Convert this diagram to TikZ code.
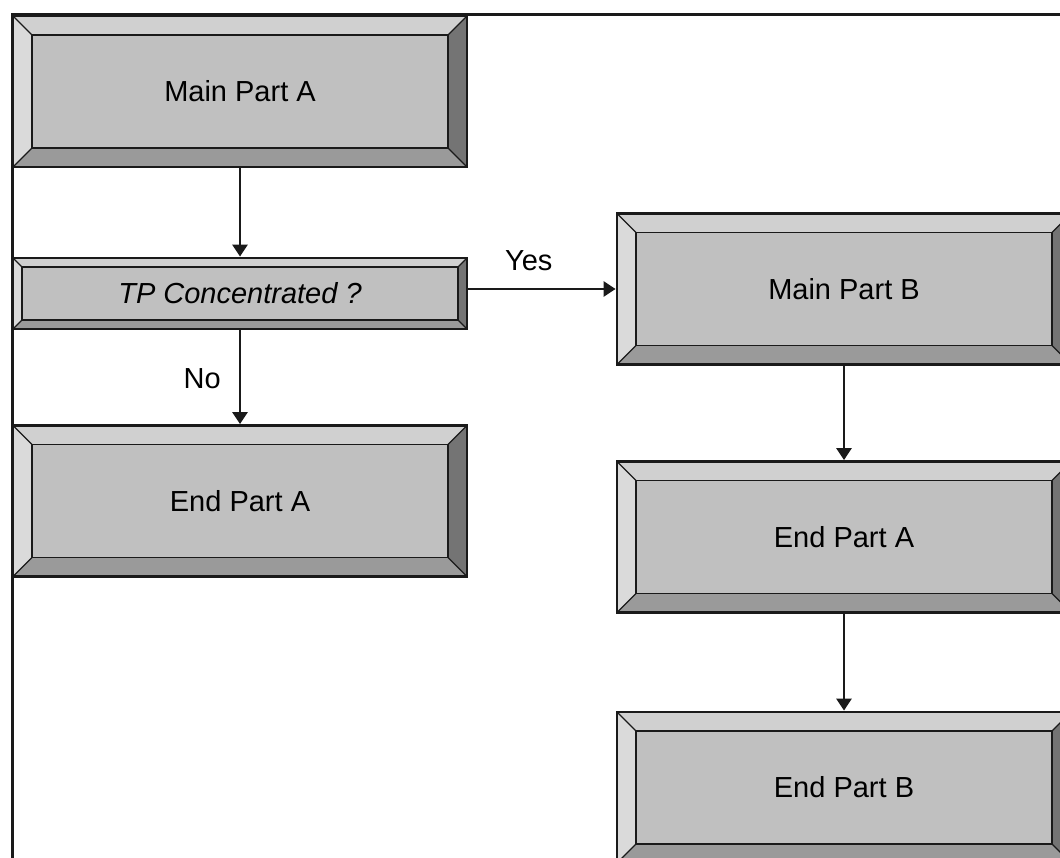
\documentclass[tikz,border=0pt]{standalone}
\usepackage{fontspec}
\setmainfont{Liberation Sans}
\usetikzlibrary{arrows.meta,calc}

\definecolor{edge}{HTML}{1A1A1A}
\definecolor{face}{HTML}{C0C0C0}
\definecolor{bevtop}{HTML}{D0D0D0}
\definecolor{bevleft}{HTML}{DADADA}
\definecolor{bevright}{HTML}{747474}
\definecolor{bevbottom}{HTML}{9A9A9A}

\tikzset{
  bevel size/.store in=\bev,
  bevel size=19,
  labelfont/.style={font=\fontsize{29}{34}\selectfont},
  bevelbox/.style={
    draw=edge, line width=2.8pt, fill=face, inner sep=0pt,
    minimum width=454pt, minimum height=151pt,
    font=\fontsize{29}{34}\selectfont,
    path picture={
      \coordinate (NW) at (path picture bounding box.north west);
      \coordinate (NE) at (path picture bounding box.north east);
      \coordinate (SW) at (path picture bounding box.south west);
      \coordinate (SE) at (path picture bounding box.south east);
      \coordinate (nw) at ($(NW)+(\bev pt,-\bev pt)$);
      \coordinate (ne) at ($(NE)+(-\bev pt,-\bev pt)$);
      \coordinate (sw) at ($(SW)+(\bev pt,\bev pt)$);
      \coordinate (se) at ($(SE)+(-\bev pt,\bev pt)$);
      \fill[bevtop] (NW) -- (NE) -- (ne) -- (nw) -- cycle;
      \fill[bevleft] (NW) -- (nw) -- (sw) -- (SW) -- cycle;
      \fill[bevright] (NE) -- (SE) -- (se) -- (ne) -- cycle;
      \fill[bevbottom] (SW) -- (sw) -- (se) -- (SE) -- cycle;
      \draw[edge, line width=1.1pt] (NW) -- (nw) (NE) -- (ne) (SW) -- (sw) (SE) -- (se);
      \draw[edge, line width=1.8pt] (nw) rectangle (se);
    }
  },
  conn/.style={draw=edge, line width=2.6pt, -{Triangle[width=15pt,length=12pt]}},
}

\begin{document}
\begin{tikzpicture}[x=1pt,y=-1pt]
  \path[use as bounding box] (0,0) rectangle (1060,858);
  \clip (0,0) rectangle (1060,858);
  \fill[white] (0,0) rectangle (1060,858);

  % outer frame
  \draw[edge, line width=3pt] (1100,15) -- (12,15) -- (12,900);

  % left column
  \node[bevelbox] (mainA) at (240,91.5) {Main Part A};
  \node[bevelbox, bevel size=9, minimum height=71pt,
        font=\fontsize{29}{34}\selectfont\itshape] (tp) at (240,293.5) {TP Concentrated ?};
  \node[bevelbox] (endA) at (240,501) {End Part A};

  % right column
  \node[bevelbox] (mainB) at (844,289) {Main Part B};
  \node[bevelbox] (endA2) at (844,537) {End Part A};
  \node[bevelbox] (endB) at (844,787.5) {End Part B};

  % connectors
  \draw[conn] (mainA) -- (tp);
  \draw[conn] (tp) -- node[labelfont, pos=0.615, anchor=base east, xshift=-18pt, inner sep=0pt] {No} (endA);
  \draw[conn] (tp.east |- mainB.west) -- node[labelfont, pos=0.41, anchor=base, yshift=18pt, inner sep=0pt] {Yes} (mainB.west);
  \draw[conn] (mainB) -- (endA2);
  \draw[conn] (endA2) -- (endB);
\end{tikzpicture}
\end{document}
